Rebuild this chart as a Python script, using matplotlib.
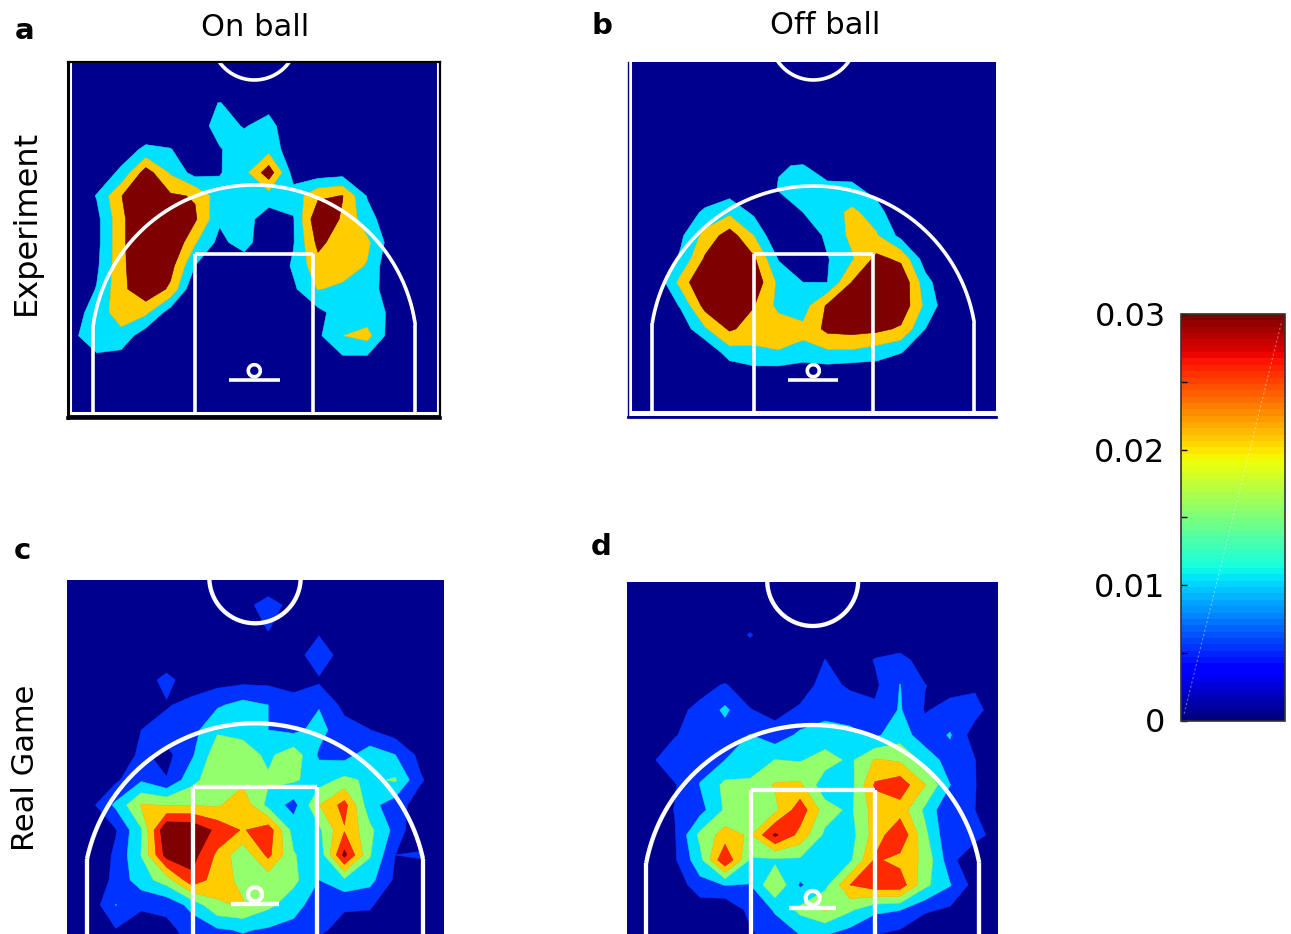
import numpy as np
import matplotlib
matplotlib.use("Agg")
import matplotlib.pyplot as plt
from matplotlib.colors import Normalize
from matplotlib.cm import ScalarMappable

W, H = 1291, 934

# shot density on the coarse court grid, in units of 0.001, rows run top to bottom
on_ball_exp = [
    [0, 0, 0, 0, 0, 3, 9, 3, 5, 0, 0, 0, 0, 0, 0, 0],
    [0, 0, 1, 3, 1, 4, 12, 8, 12, 1, 0, 0, 0, 0, 0, 0],
    [0, 0, 5, 10, 9, 3, 8, 13, 14, 3, 1, 1, 0, 0, 0, 0],
    [0, 4, 10, 30, 16, 5, 8, 14, 31, 5, 3.5, 5, 2, 0, 0, 0],
    [2, 9, 25.5, 32, 27, 25, 12, 12, 13, 12, 24, 26, 8, 1, 0, 0],
    [2, 6, 23, 38, 36, 27, 10, 12, 4, 8, 33, 24.5, 12, 3, 0, 0],
    [1, 6, 23, 38, 35, 18, 6, 13, 0, 8, 28, 21, 19, 4, 0, 0],
    [1, 7, 23, 36, 29, 8.6, 0, 2, 0, 10, 22.6, 21, 16.5, 1, 0, 0],
    [2, 9, 23, 33, 24, 0, 0, 0, 0, 7, 17.5, 15.4, 13, 3.7, 0, 0],
    [5, 12, 22, 19, 4.4, 0, 0, 0, 0, 0, 6.2, 13, 12, 7.4, 0, 0],
    [7, 13, 14, 3.5, 0, 0, 0, 0, 0, 0, 7, 17, 20, 4, 0, 0],
    [0, 7, 5, 0, 0, 0, 0, 0, 0, 0, 2, 7, 6.5, 0, 0, 0],
    [0, 0, 0, 0, 0, 0, 0, 0, 0, 0, 0, 0, 0, 0, 0, 0],
]
off_ball_exp = [
    [0, 0, 0, 0, 0, 0, 0, 0, 0, 0, 0, 0, 0, 0, 0, 0],
    [0, 0, 0, 0, 0, 0, 8.2, 9, 4, 3, 1, 0, 0, 0, 0, 0],
    [0, 0, 0, 3, 4, 3, 9, 11, 11, 11, 5, 0, 0, 0, 0, 0],
    [0, 0, 4, 10, 15, 6.7, 5, 8.6, 13, 19, 13, 0, 0, 0, 0, 0],
    [0, 0, 7, 20, 30, 17, 0, 0, 11, 19, 18, 6, 0, 0, 0, 0],
    [0, 0, 10, 27, 34, 27, 8, 3, 8, 16, 28, 24, 4, 0, 0, 0],
    [0, 2, 20, 36, 36, 32, 15, 8.6, 8.6, 26, 33, 33, 12, 0, 0, 0],
    [0, 0, 9.5, 29, 34, 26, 14.7, 13, 27, 33, 33, 32, 15, 2, 0, 0],
    [0, 0, 3, 16, 27, 22, 22, 19, 28, 29, 28, 24.4, 8.6, 0, 0, 0],
    [0, 0, 0, 0, 13.4, 15, 16.5, 15, 15.5, 15.5, 12.6, 9, 3, 0, 0, 0],
    [0, 0, 0, 0, 0, 4, 3, 0, 2, 0, 2, 0, 0, 0, 0, 0],
]
on_ball_game = [
    [0, 0, 0, 0, 0, 0, 0, 0, 0, 0, 0, 0, 0, 0, 0, 0],
    [0, 0, 0, 0, 0, 0, 0, 2.5, 6.5, 2.5, 0, 0, 0, 0, 0, 0],
    [0, 0, 0, 0, 0, 0, 0, 2, 4.4, 2, 3, 0, 0, 0, 0, 0],
    [0, 0, 0, 0, 0, 0, 0, 0, 2, 1, 8.5, 1, 0, 0, 0, 0],
    [0, 0, 0, 1.5, 6, 1, 2.5, 3, 3, 1.5, 3.5, 1, 0, 0, 0, 0],
    [0, 0, 0, 1.5, 3.8, 6, 8, 10, 8.6, 7, 8.3, 3, 1, 0, 0, 0],
    [0, 0, 1, 4.3, 6.5, 7, 12.3, 11.5, 8.6, 7.5, 10, 6, 4.4, 2, 0, 0],
    [0, 0, 2, 5, 3, 8, 15.5, 15, 12, 15.5, 8, 7, 11, 8.7, 3, 0],
    [0, 1, 3.5, 8, 4.5, 11.5, 16, 16, 13.5, 13.5, 11, 14, 12, 13.4, 4.8, 1],
    [0, 3, 9.5, 17.5, 16.8, 17, 16.5, 20, 11.5, 7, 17, 23, 10, 6.4, 2, 0],
    [0, 2, 4, 12.5, 30, 29.5, 24.5, 21, 24, 11, 12, 21, 14, 7.2, 0, 0],
    [0, 1, 5, 13, 27.5, 27.5, 20.5, 14, 22.5, 13.3, 9.5, 27, 13.3, 4.3, 5, 0],
    [0, 1, 5.5, 11, 15, 24.5, 19, 16, 14.5, 14, 8.6, 12, 10, 3.5, 0, 0],
    [0, 1.5, 8.7, 5, 5.5, 10, 16.5, 17.5, 14, 10.5, 6, 4.8, 5, 0.5, 0, 0],
    [0, 0, 4, 2, 3, 6, 8, 9, 8, 7, 5, 3, 1.5, 0, 0, 0],
    [0, 0, 0, 0, 0, 5, 6, 6, 5, 4.5, 2, 0, 0, 0, 0, 0],
]
off_ball_game = [
    [0, 0, 0, 0, 0, 0, 0, 0, 0, 0, 0, 0, 0, 0, 0, 0],
    [0, 0, 0, 0, 0, 4.8, 0, 0, 0, 0, 0, 0, 0, 0, 0, 0],
    [0, 0, 0, 0, 0, 0, 0, 0, 4.4, 1, 4.6, 6, 2, 0, 0, 0],
    [0, 0, 0, 3, 4.6, 2, 0, 2, 6, 3.5, 3.4, 8.7, 4.4, 3, 3.5, 0],
    [0, 1.5, 3.3, 5.2, 9.5, 4.5, 3, 5, 7.5, 7, 5, 9, 4, 5.5, 6, 1],
    [0, 2, 4, 6.5, 6.5, 8.7, 6, 9.5, 10, 9.5, 7.8, 11, 6, 9, 2, 0],
    [0, 3.5, 7, 7.8, 8.6, 9.8, 13, 12.5, 15, 12, 17.5, 16.5, 11.5, 6.5, 4.4, 0],
    [0, 1, 4, 8.7, 14, 14, 17.5, 18, 10, 11, 22, 24, 17.3, 8.7, 4.5, 0],
    [0, 1, 4.5, 7, 13.5, 15, 16, 24, 15, 12, 19, 19.5, 12, 4.5, 4.3, 1],
    [0, 1.5, 4, 14, 19, 16.5, 26.5, 20, 12, 11, 19, 25, 14, 4.8, 6, 2],
    [0, 1, 3.8, 11.5, 25.5, 12.5, 12, 12.2, 12.9, 12, 22, 20, 16, 6, 0, 0],
    [0, 0, 1.5, 7, 8.7, 8.4, 17, 8, 11.5, 21.4, 24, 24, 14, 8.9, 2.5, 0],
    [0, 0, 0, 1.5, 0.4, 5.5, 9, 14, 17.5, 13.5, 9.5, 8.7, 5, 3.5, 0, 0],
    [0, 0, 0, 0, 0, 3.5, 6.5, 8.6, 8.7, 6.5, 4.3, 3, 0, 0, 0, 0],
    [0, 0, 0, 0, 0, 0, 4, 4, 4, 3, 0, 0, 0, 0, 0, 0],
]

band_colors = ["#00008f", "#0033ff", "#00e1ff", "#93ff6c", "#ffcc00", "#ff2a00", "#7f0000"]
levels_game = [0, 4.3, 8.6, 12.9, 17.1, 21.4, 25.7, 60]
levels_exp = [0, 8.6, 17.1, 25.7, 60]
colors_exp = [band_colors[0], band_colors[2], band_colors[4], band_colors[6]]

cbar_ticks = [0, 0.01, 0.02, 0.03]
cbar_labels = ["0", "0.01", "0.02", "0.03"]
minor_ticks = [0.005, 0.015, 0.025]


def px_axes(fig, left, top, right, bottom):
    ax = fig.add_axes([left / W, 1 - bottom / H, (right - left) / W, (bottom - top) / H])
    ax.set_xlim(left, right)
    ax.set_ylim(bottom, top)
    ax.set_xticks([])
    ax.set_yticks([])
    return ax


def draw_density(ax, grid, x0, y0, dx, dy, levels, colors):
    z = np.array(grid, dtype=float)
    x = x0 + dx * np.arange(z.shape[1])
    y = y0 + dy * np.arange(z.shape[0])
    ax.set_facecolor(band_colors[0])
    cs = ax.contourf(x, y, z, levels=levels, colors=colors, antialiased=True)
    # stops the pale seams between neighbouring bands
    cs.set_edgecolor("face")
    cs.set_linewidth(0.4)


def draw_court(ax, cx, arc_top, arc_half, arc_end, lane_half, lane_top, base, rim_y, rim_r,
               bar_y, bar_half, circle_bottom, circle_r, lw):
    kw = dict(color="white", lw=lw, solid_capstyle="butt", clip_on=True)
    sag = arc_end - arc_top
    R = (arc_half ** 2 + sag ** 2) / (2 * sag)
    cy = arc_top + R
    phi_max = np.arcsin(arc_half / R)
    phi = np.linspace(-phi_max, phi_max, 200)
    ax.plot(cx + R * np.sin(phi), cy - R * np.cos(phi), **kw)
    for side in (-1, 1):
        ax.plot([cx + side * arc_half] * 2, [arc_end, base], **kw)
        ax.plot([cx + side * lane_half] * 2, [lane_top, base], **kw)
    ax.plot([cx - lane_half, cx + lane_half], [lane_top, lane_top], **kw)
    t = np.linspace(0, 2 * np.pi, 80)
    ax.plot(cx + rim_r * np.cos(t), rim_y + rim_r * np.sin(t), **kw)
    ax.plot([cx - bar_half, cx + bar_half], [bar_y, bar_y], **kw)
    ax.plot(cx + circle_r * np.cos(t), circle_bottom - circle_r + circle_r * np.sin(t), **kw)


fig = plt.figure(figsize=(W / 100, H / 100), dpi=100)

# a
ax = px_axes(fig, 68, 62, 440, 418)
draw_density(ax, on_ball_exp, 72, 102.7, 24.6, 23.3, levels_exp, colors_exp)
draw_court(ax, 254.3, 185, 161, 325, 59, 254, 413, 370.7, 6, 380, 25.5, 80, 43, 2.6)
ax.plot([70, 70], [62, 413], color="white", lw=2.2)
ax.plot([438, 438], [62, 413], color="white", lw=2.2)
ax.plot([68, 440], [413, 413], color="white", lw=2.2)
for name, lw in (("left", 2.2), ("bottom", 2.6), ("top", 1.6), ("right", 1.6)):
    ax.spines[name].set_linewidth(lw)
    ax.spines[name].set_color("black")

# b
ax = px_axes(fig, 628, 62, 996, 417)
draw_density(ax, off_ball_exp, 631.7, 142.3, 24.47, 23.33, levels_exp, colors_exp)
draw_court(ax, 813.3, 186, 161, 323, 59.3, 254, 412, 370.7, 6, 380, 25, 80, 43, 2.6)
ax.fill_between([628, 996], 413, 416, color="white", lw=0)
ax.plot([630.5, 630.5], [62, 413], color="white", lw=2.2)
ax.plot([628, 996], [412, 412], color="white", lw=2.2)
for name in ax.spines:
    ax.spines[name].set_visible(False)
ax.spines["left"].set_visible(True)
ax.spines["bottom"].set_visible(True)
ax.spines["left"].set_color(band_colors[0])
ax.spines["bottom"].set_color(band_colors[0])
ax.spines["left"].set_linewidth(1)
ax.spines["bottom"].set_linewidth(2)

# c
ax = px_axes(fig, 67, 580, 444, 934)
draw_density(ax, on_ball_game, 65, 580, 25.4, 25, levels_game, band_colors)
draw_court(ax, 255, 723.3, 168, 859, 62.3, 786.7, 940, 894.3, 7, 904, 24, 623.3, 45.7, 3.1)
for spine in ax.spines.values():
    spine.set_visible(False)

# d
ax = px_axes(fig, 627, 582, 998, 934)
draw_density(ax, off_ball_game, 625, 610, 25, 25, levels_game, band_colors)
draw_court(ax, 812.7, 725, 166.5, 863, 62, 790, 940, 898, 7, 908, 23.3, 626, 45.5, 3.1)
for spine in ax.spines.values():
    spine.set_visible(False)

# colour bar
cax = fig.add_axes([1181 / W, 1 - 720.5 / H, 104 / W, 406.5 / H])
sm = ScalarMappable(norm=Normalize(0, 0.03), cmap=plt.get_cmap("jet", 64))
cb = fig.colorbar(sm, cax=cax, ticklocation="left")
cb.set_ticks(cbar_ticks, labels=cbar_labels)
cb.ax.set_yticks(minor_ticks, minor=True)
cb.ax.tick_params(which="major", direction="in", length=4, width=1, labelsize=23, pad=11)
cb.ax.tick_params(which="minor", direction="in", length=4, width=1)
cb.outline.set_edgecolor("#333333")
cb.outline.set_linewidth(1.2)
cax.plot([0.03, 0.97], [0.0005, 0.0295], transform=cax.get_yaxis_transform(), color="white",
         lw=0.8, ls=(0, (2, 2)), alpha=0.4)

# labels
fig.text(255 / W, 1 - 27 / H, "On ball", fontsize=22, ha="center", va="center")
fig.text(825 / W, 1 - 25 / H, "Off ball", fontsize=22, ha="center", va="center")
fig.text(26 / W, 1 - 222 / H, "Experiment", fontsize=23, rotation=90, ha="center", va="center")
fig.text(26 / W, 1 - 768 / H, "Real Game", fontsize=22, rotation=90, ha="center", va="center")
for letter, x, y in (("a", 15, 31), ("b", 592, 26), ("c", 14, 551), ("d", 591, 547)):
    fig.text(x / W, 1 - y / H, letter, fontsize=21, fontweight="bold", ha="left", va="center")

fig.savefig("out.png", dpi=100)
